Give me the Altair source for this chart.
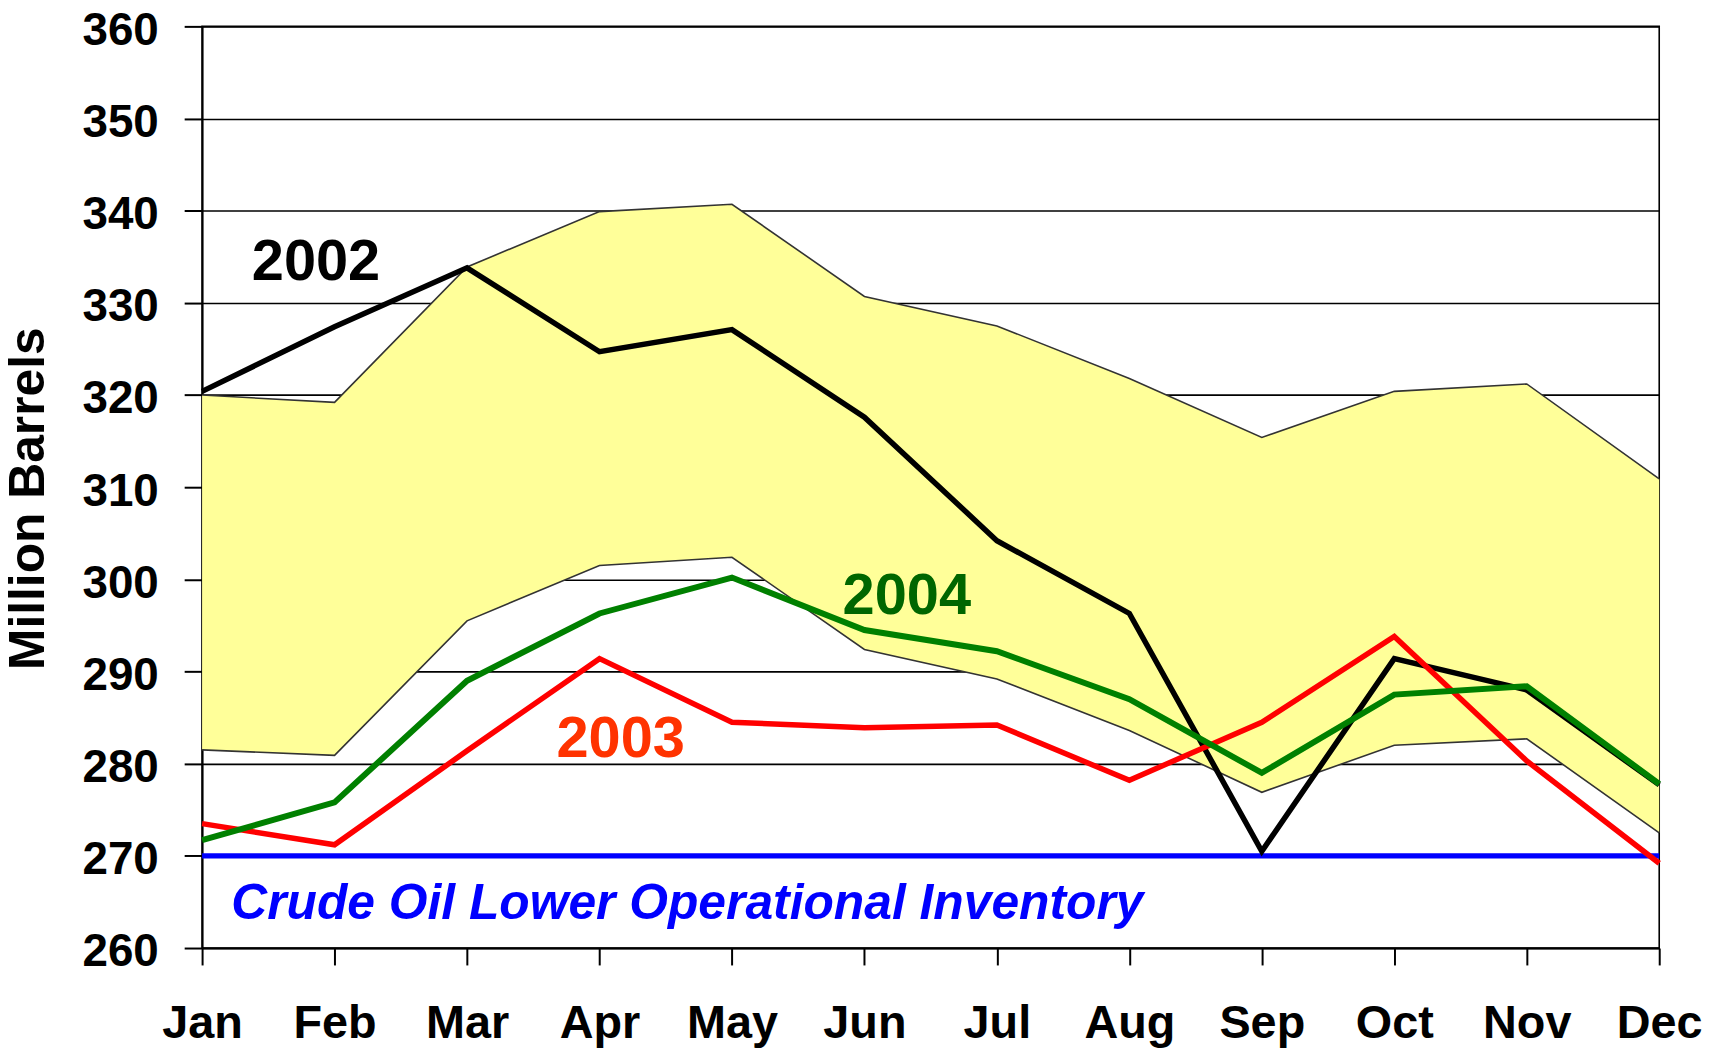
import json
import altair as alt
import pandas as pd

MONTHS = ["Jan", "Feb", "Mar", "Apr", "May", "Jun", "Jul", "Aug", "Sep", "Oct", "Nov", "Dec"]
RANGE_UPPER = [320.0, 319.2, 333.9, 339.9, 340.7, 330.7, 327.5, 321.8, 315.4, 320.4, 321.2, 310.9]
RANGE_LOWER = [281.5, 280.9, 295.5, 301.5, 302.4, 292.4, 289.2, 283.6, 276.9, 282.0, 282.7, 272.5]
Y2002 = [320.4, 327.4, 333.8, 324.7, 327.1, 317.6, 304.2, 296.3, 270.5, 291.4, 288.0, 277.7]
Y2003 = [273.5, 271.2, 281.4, 291.4, 284.5, 283.9, 284.2, 278.2, 284.5, 293.8, 280.3, 269.2]
Y2004 = [271.7, 275.8, 289.0, 296.3, 300.2, 294.5, 292.2, 287.0, 279.0, 287.5, 288.4, 277.8]
LOWER_OP_INVENTORY = 270
Y_TICKS = [260, 270, 280, 290, 300, 310, 320, 330, 340, 350, 360]

YEAR_LABELS = ["2002", "2003", "2004"]
YEAR_LABEL_COLORS = ["#000000", "#FF3300", "#006600"]
YEAR_LABEL_X = [0.86, 3.16, 5.32]
YEAR_LABEL_Y = [332.5, 280.7, 296.2]
LOI_LABEL = "Crude Oil Lower Operational Inventory"
LOI_LABEL_X = 0.22
LOI_LABEL_Y = 263.1

FONT = "Liberation Sans"

df = pd.DataFrame({
    "m": list(range(len(MONTHS))),
    "month": MONTHS,
    "upper": RANGE_UPPER,
    "lower": RANGE_LOWER,
    "y2002": Y2002,
    "y2003": Y2003,
    "y2004": Y2004,
})
labels_df = pd.DataFrame({
    "x": YEAR_LABEL_X,
    "y": YEAR_LABEL_Y,
    "text": YEAR_LABELS,
    "color": YEAR_LABEL_COLORS,
})
loi_df = pd.DataFrame({"x": [LOI_LABEL_X], "y": [LOI_LABEL_Y], "text": [LOI_LABEL], "v": [LOWER_OP_INVENTORY]})

label_expr = json.dumps(MONTHS) + "[datum.value]"

x_enc = alt.X(
    "m:Q",
    scale=alt.Scale(domain=[0, len(MONTHS) - 1], nice=False, zero=False),
    axis=alt.Axis(
        values=list(range(len(MONTHS))),
        labelExpr=label_expr,
        labelOverlap=False,
        labelFlush=False,
        labelBound=False,
        labelFontSize=47,
        title=None,
        grid=False,
        tickSize=17,
        labelPadding=36,
    ),
)
y_scale = alt.Scale(domain=[260, 360], nice=False, zero=False)
y_axis = alt.Axis(
    values=Y_TICKS,
    grid=True,
    gridColor="#000000",
    gridWidth=1.6,
    tickSize=18,
    labelPadding=26,
    labelFontSize=46,
    labelOffset=4,
    labelOverlap=False,
    labelFlush=False,
    title="Million Barrels",
    titleAngle=-90,
    titleX=-174,
    titleY=474,
    titleAlign="center",
    titleBaseline="middle",
    titleFont=FONT,
    titleFontSize=50,
    titleFontWeight="bold",
    titleColor="#000000",
)

base = alt.Chart(df)

band = base.mark_area(color="#FFFF99", opacity=1).encode(
    x=x_enc,
    y=alt.Y("lower:Q", scale=y_scale, axis=y_axis),
    y2="upper:Q",
)
band_up = base.mark_line(color="#333333", strokeWidth=1.6).encode(x=x_enc, y=alt.Y("upper:Q", scale=y_scale))
band_lo = base.mark_line(color="#333333", strokeWidth=1.6).encode(x=x_enc, y=alt.Y("lower:Q", scale=y_scale))

loi_line = alt.Chart(loi_df).mark_rule(color="#0000FF", strokeWidth=5.5).encode(
    y=alt.Y("v:Q", scale=y_scale)
)

l2002 = base.mark_line(color="#000000", strokeWidth=5.5).encode(x=x_enc, y=alt.Y("y2002:Q", scale=y_scale))
l2003 = base.mark_line(color="#FF0000", strokeWidth=5.5).encode(x=x_enc, y=alt.Y("y2003:Q", scale=y_scale))
l2004 = base.mark_line(color="#008000", strokeWidth=6).encode(x=x_enc, y=alt.Y("y2004:Q", scale=y_scale))

year_text = alt.Chart(labels_df).mark_text(
    font=FONT, fontSize=58, fontWeight="bold", align="center", baseline="alphabetic"
).encode(
    x=alt.X("x:Q", scale=alt.Scale(domain=[0, 11], nice=False, zero=False)),
    y=alt.Y("y:Q", scale=y_scale),
    text="text:N",
    color=alt.Color("color:N", scale=None),
)

loi_text = alt.Chart(loi_df).mark_text(
    font=FONT, fontSize=50, fontWeight="bold", fontStyle="italic", align="left",
    baseline="alphabetic", color="#0000FF"
).encode(
    x=alt.X("x:Q", scale=alt.Scale(domain=[0, 11], nice=False, zero=False)),
    y=alt.Y("y:Q", scale=y_scale),
    text="text:N",
)

chart = alt.layer(
    band, band_up, band_lo, loi_line, l2002, l2003, l2004, year_text, loi_text
).properties(
    width=1464,
    height=926,
    autosize=alt.AutoSizeParams(type="none"),
    padding={"left": 195, "top": 16, "right": 47, "bottom": 102},
    background="#FFFFFF",
).configure_view(
    stroke="#000000",
    strokeWidth=1.6,
).configure_axis(
    domainColor="#000000",
    domainWidth=2,
    tickColor="#000000",
    tickWidth=2,
    labelFont=FONT,
    labelFontSize=47,
    labelFontWeight="bold",
    labelColor="#000000",
)

chart.save("out.html", embed_options={"renderer": "svg", "actions": False})
